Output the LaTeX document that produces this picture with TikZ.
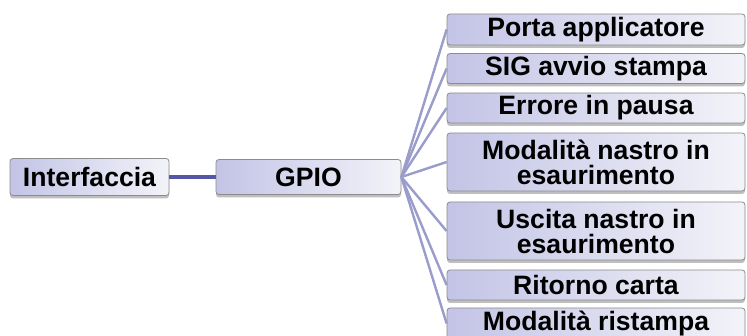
\documentclass[tikz,border=0pt]{standalone}
\usepackage{fontspec}
\setmainfont{Liberation Sans}
\usetikzlibrary{shadows}
\definecolor{lavL}{HTML}{C3C4E6}
\definecolor{lavR}{HTML}{F3F3F9}
\definecolor{edge}{HTML}{8C8C8C}
\definecolor{linkA}{HTML}{5457A6}
\definecolor{linkB}{HTML}{9A9CCB}
\tikzset{
  box/.style={draw=edge, line width=0.8pt, rounded corners=3pt,
    left color=lavL, right color=lavR, align=center,
    font=\fontsize{26.6}{25}\selectfont\bfseries, inner sep=0pt,
    drop shadow={shadow xshift=0pt, shadow yshift=-3pt, opacity=0.25, fill=black}},
  leaf/.style={box, minimum width=298pt},
  mainlink/.style={draw=linkA, line width=3.5pt},
  leaflink/.style={draw=linkB, line width=2.4pt},
}
\begin{document}
\begin{tikzpicture}[x=1pt,y=1pt]
\useasboundingbox (0,0) rectangle (747,336);
\clip (0,0) rectangle (747,336);
\fill[white] (0,0) rectangle (747,336);
% nodes
\node[box, minimum width=159pt, minimum height=37pt] (int) at (89.5,159) {Interfaccia};
\node[box, minimum width=185pt, minimum height=35pt] (gpio) at (308.5,159) {GPIO};
\node[leaf, minimum height=31pt] (l1) at (596,306.5) {Porta applicatore};
\node[leaf, minimum height=30pt] (l2) at (596,267.5) {SIG avvio stampa};
\node[leaf, minimum height=30pt] (l3) at (596,228) {Errore in pausa};
\node[leaf, minimum height=58pt] (l4) at (596,174) {Modalità nastro in\\esaurimento};
\node[leaf, minimum height=58pt] (l5) at (596,105) {Uscita nastro in\\esaurimento};
\node[leaf, minimum height=30pt] (l6) at (596,51) {Ritorno carta};
\node[leaf, minimum height=31pt] (l7) at (596,12.5) {Modalità ristampa};
% connectors
\draw[mainlink] (int.east) -- (gpio.west);
\foreach \n in {l1,l2,l3,l4,l5,l6,l7}{
  \draw[leaflink] (gpio.east) -- (\n.west);
}
\end{tikzpicture}
\end{document}
